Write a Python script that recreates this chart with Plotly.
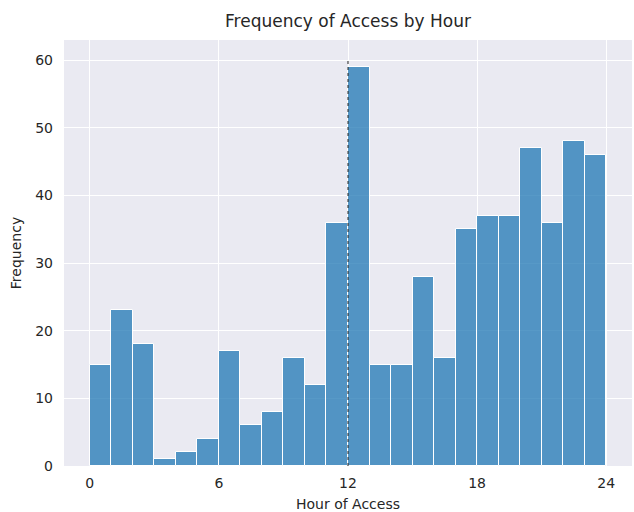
import plotly.graph_objects as go

hour_start = list(range(24))
frequency = [15, 23, 18, 1, 2, 4, 17, 6, 8, 16, 12, 36, 59, 15, 15, 28, 16, 35, 37, 37, 47, 36, 48, 46]
x_ticks = [0, 6, 12, 18, 24]
y_ticks = [0, 10, 20, 30, 40, 50, 60]
marker_hour = 12
marker_top = 60

fig = go.Figure()
fig.add_trace(go.Bar(
    x=[h + 0.5 for h in hour_start],
    y=frequency,
    width=1,
    marker=dict(color="rgba(31,119,180,0.75)", line=dict(color="white", width=1)),
    showlegend=False,
))
fig.add_trace(go.Scatter(
    x=[marker_hour, marker_hour], y=[0, marker_top], mode="lines",
    line=dict(color="#222222", width=1, dash="dot"), showlegend=False,
))

font_family = "DejaVu Sans"
fig.update_layout(
    width=634, height=512,
    margin=dict(l=64, r=2, t=40, b=46, autoexpand=False),
    paper_bgcolor="white",
    plot_bgcolor="#EAEAF2",
    bargap=0,
    font=dict(family=font_family, color="#262626", size=14),
    title=dict(text="Frequency of Access by Hour", x=0.5, xanchor="center", xref="paper",
               y=491 / 512, yanchor="middle", font=dict(size=17, color="#262626"),
               automargin=False),
)
fig.update_xaxes(
    range=[-1.2, 25.2], tickvals=x_ticks, ticktext=[str(t) for t in x_ticks],
    showgrid=True, gridcolor="white", gridwidth=1, zeroline=False, automargin=False,
    showline=False, ticks="", tickfont=dict(size=14, color="#262626"),
    ticklabelstandoff=7,
    title=dict(text="Hour of Access", font=dict(size=14, color="#262626"), standoff=12),
)
fig.update_yaxes(
    range=[0, 63], tickvals=y_ticks, ticktext=[str(t) for t in y_ticks],
    showgrid=True, gridcolor="white", gridwidth=1, zeroline=False, automargin=False,
    showline=False, ticks="", tickfont=dict(size=14, color="#262626"),
    ticklabelstandoff=10,
    title=dict(text="Frequency", font=dict(size=14, color="#262626"), standoff=10),
)

fig.write_html("out.html", config={"displayModeBar": False},
               post_script="document.body.style.margin='0';document.body.style.overflow='hidden';")
